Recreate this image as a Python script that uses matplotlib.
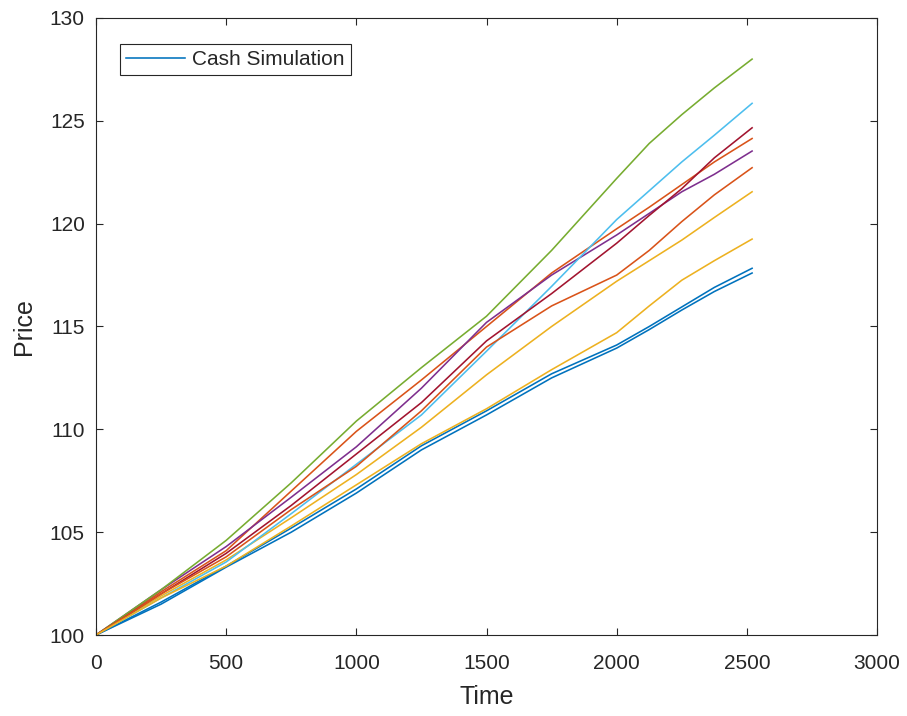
import numpy as np
import matplotlib.pyplot as plt

# sample times
time = [0, 250, 500, 750, 1000, 1250, 1500, 1750, 2000, 2125, 2250, 2375, 2520]

# simulated price paths, plotted in MATLAB colour-order sequence
blue1 = [100, 101.6, 103.35, 105.2, 107.1, 109.2, 110.9, 112.7, 114.1, 115.0, 115.95, 116.9, 117.83]
orange1 = [100, 102.1, 104.1, 107.0, 109.9, 112.4, 115.0, 117.6, 119.75, 120.8, 121.9, 123.0, 124.14]
yellow1 = [100, 101.9, 103.65, 105.7, 107.8, 110.1, 112.65, 115.0, 117.2, 118.2, 119.2, 120.3, 121.55]
purple = [100, 102.2, 104.3, 106.7, 109.15, 112.0, 115.2, 117.5, 119.45, 120.5, 121.55, 122.4, 123.53]
green = [100, 102.2, 104.6, 107.4, 110.4, 113.0, 115.5, 118.7, 122.2, 123.9, 125.3, 126.6, 128.0]
lightblue = [100, 101.8, 103.55, 105.9, 108.3, 110.7, 113.8, 116.95, 120.2, 121.6, 123.0, 124.3, 125.85]
darkred = [100, 102.0, 103.97, 106.3, 108.8, 111.3, 114.3, 116.6, 119.05, 120.4, 121.7, 123.2, 124.66]
blue2 = [100, 101.5, 103.3, 105.0, 106.9, 109.0, 110.7, 112.5, 113.95, 114.85, 115.8, 116.7, 117.6]
orange2 = [100, 102.0, 103.8, 106.1, 108.2, 110.9, 114.0, 116.0, 117.5, 118.7, 120.1, 121.4, 122.72]
yellow2 = [100, 101.8, 103.35, 105.3, 107.3, 109.3, 111.0, 112.9, 114.7, 116.0, 117.25, 118.2, 119.25]

paths = [blue1, orange1, yellow1, purple, green, lightblue, darkred, blue2, orange2, yellow2]
colors = ['#0072BD', '#D95319', '#EDB120', '#7E2F8E', '#77AC30',
          '#4DBEEE', '#A2142F', '#0072BD', '#D95319', '#EDB120']

plt.rcParams['font.family'] = ['Liberation Sans', 'DejaVu Sans']
axcol = '#262626'

fig = plt.figure(figsize=(9.07, 7.16), dpi=100)
ax = fig.add_axes([0.1058, 0.1131, 0.967 - 0.1058, 0.9749 - 0.1131])

for i, (p, c) in enumerate(zip(paths, colors)):
    ax.plot(time, p, color=c, linewidth=1.15,
            label='Cash Simulation' if i == 0 else None)

ax.set_xlim(0, 3000)
ax.set_ylim(100, 130)
ax.set_xticks(np.arange(0, 3001, 500))
ax.set_yticks(np.arange(100, 131, 5))
ax.tick_params(direction='in', top=True, right=True, length=5, width=0.8,
               labelsize=15, colors=axcol, pad=8)
ax.tick_params(axis='x', pad=14)
for s in ax.spines.values():
    s.set_color(axcol)
    s.set_linewidth(0.8)

ax.set_xlabel('Time', fontsize=18, color=axcol, labelpad=8)
ax.set_ylabel('Price', fontsize=18, color=axcol, labelpad=10)

leg = ax.legend(loc='upper left', bbox_to_anchor=(0.031, 0.958), fontsize=15,
                fancybox=False, framealpha=1, edgecolor=axcol,
                handlelength=2.8, handletextpad=0.35, borderpad=0.3,
                borderaxespad=0)
leg.get_frame().set_linewidth(0.8)
for t in leg.get_texts():
    t.set_color(axcol)

fig.savefig('out.png', dpi=100)
